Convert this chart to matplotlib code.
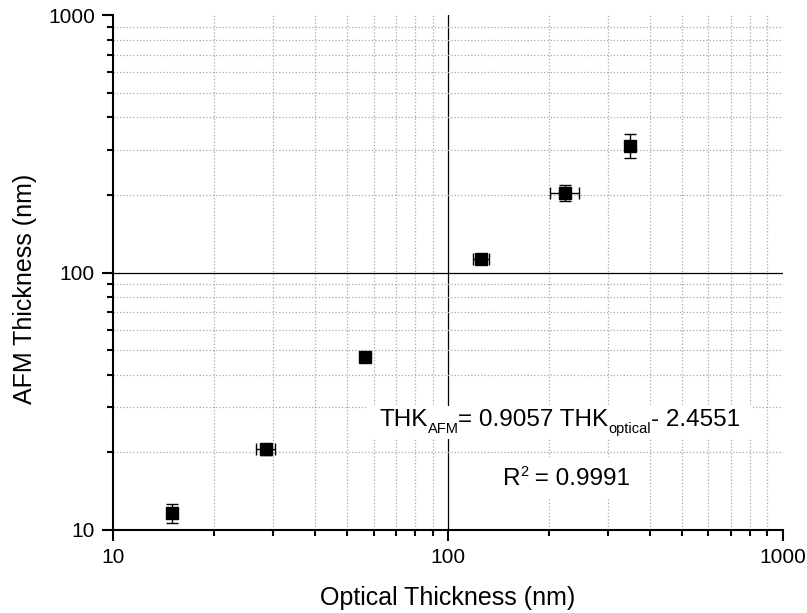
import matplotlib.pyplot as plt
from matplotlib.patches import Rectangle
from matplotlib.ticker import LogLocator, NullFormatter
from matplotlib.transforms import offset_copy, Bbox

plt.rcParams['font.family'] = ['Liberation Sans', 'DejaVu Sans']

# Data
optical = [15.0, 28.6, 56.5, 125.5, 224.0, 349.0]
optical_err = [0.0, 1.9, 0.0, 7.0, 22.0, 0.0]
afm = [11.6, 20.6, 47.0, 112.6, 204.5, 311.0]
afm_err = [1.0, 1.0, 1.5, 3.0, 15.0, 33.0]

major_ticks = [10, 100, 1000]
major_labels = ["10", "100", "1000"]

# (text, is_script, vertical shift in px) pieces of the annotations
fit_pieces = [("THK", False, 0), ("AFM", True, -7), ("= 0.9057 THK", False, 0),
              ("optical", True, -7), ("- 2.4551", False, 0)]
r2_pieces = [("R", False, 0), ("2", True, 9), (" = 0.9991", False, 0)]

fig = plt.figure(figsize=(8.07, 6.13), dpi=100)
ax = fig.add_axes([0.140, 0.1354, 0.830, 0.8401])

ax.set_xscale('log')
ax.set_yscale('log')
ax.set_xlim(10, 1000)
ax.set_ylim(10, 1000)

# minor dotted grid, decade reference lines
ax.xaxis.set_minor_locator(LogLocator(base=10, subs=range(2, 10)))
ax.yaxis.set_minor_locator(LogLocator(base=10, subs=range(2, 10)))
ax.xaxis.set_minor_formatter(NullFormatter())
ax.yaxis.set_minor_formatter(NullFormatter())
ax.grid(which='minor', linestyle=':', color='#a8a8a8', linewidth=0.9)
ax.axhline(100, color='black', linewidth=0.9, zorder=1)
ax.axvline(100, color='black', linewidth=0.9, zorder=1)

ax.errorbar(optical, afm, xerr=optical_err, yerr=afm_err, fmt='s',
            color='black', markersize=9, ecolor='black', elinewidth=1,
            capsize=4, capthick=1, zorder=3)

ax.set_xticks(major_ticks)
ax.set_xticklabels(major_labels)
ax.set_yticks(major_ticks)
ax.set_yticklabels(major_labels)

for side in ['top', 'right']:
    ax.spines[side].set_visible(False)
for side in ['left', 'bottom']:
    ax.spines[side].set_linewidth(1.5)

ax.tick_params(which='major', direction='out', length=8, width=1.5,
               labelsize=15, pad=5)
ax.tick_params(which='minor', direction='out', length=4.5, width=1.5)

ax.set_xlabel("Optical Thickness (nm)", fontsize=18, labelpad=14)
ax.set_ylabel("AFM Thickness (nm)", fontsize=18)
ax.yaxis.set_label_coords(-0.113, 0.468)

renderer = fig.canvas.get_renderer()


def rich_text(x, y, pieces, padx, pady):
    """Place text pieces along a baseline, centred, scripts smaller."""
    widths = []
    texts = []
    for s, script, dy in pieces:
        size = 10.5 if script else 17.5
        t = ax.text(x, y, s, fontsize=size, ha='left', va='baseline',
                    transform=ax.transAxes, zorder=5)
        widths.append(t.get_window_extent(renderer).width)
        texts.append(t)
    xoff = -sum(widths) / 2
    for t, w, (s, script, dy) in zip(texts, widths, pieces):
        t.set_transform(offset_copy(ax.transAxes, fig=fig, x=xoff, y=dy,
                                    units='dots'))
        xoff += w
    bb = Bbox.union([t.get_window_extent(renderer) for t in texts])
    bb = ax.transAxes.inverted().transform_bbox(bb)
    px = padx / ax.bbox.width
    py = pady / ax.bbox.height
    ax.add_patch(Rectangle((bb.x0 - px, bb.y0 - py), bb.width + 2 * px,
                           bb.height + 2 * py, transform=ax.transAxes,
                           facecolor='white', edgecolor='none', zorder=4))


rich_text(0.667, 0.202, fit_pieces, 12, 3)
rich_text(0.677, 0.087, r2_pieces, 15, 8)

fig.savefig("out.png", dpi=100)
